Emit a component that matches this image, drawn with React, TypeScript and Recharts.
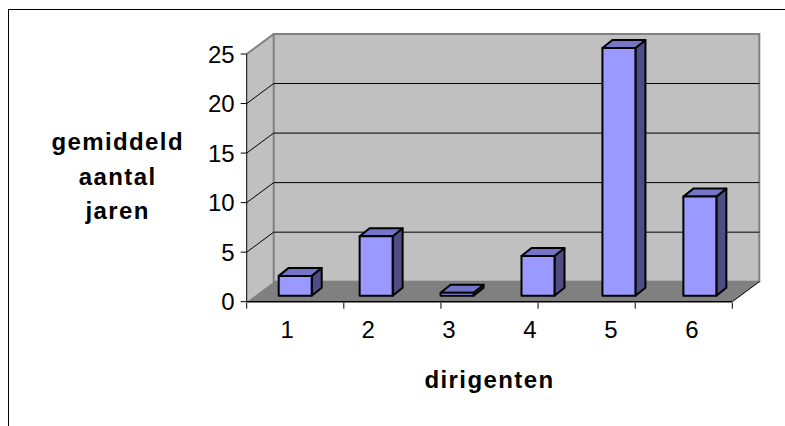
import { BarChart, Bar, XAxis, YAxis, ReferenceArea } from 'recharts'

/* ---------- data ---------- */

const categories = ['1', '2', '3', '4', '5', '6']
const years = [2, 6, 0.3, 4, 25, 10]
const yTicks = [0, 5, 10, 15, 20, 25]
const gridValues = [5, 10, 15, 20]
const edgeTicks = [0, 1, 2, 3, 4, 5, 6]

const data = categories.map((name, i) => ({ name, years: years[i] }))

/* ---------- look ---------- */

const FONT = '"Liberation Sans", Arial, sans-serif'
const WALL = '#c0c0c0'
const WALL_EDGE = '#808080'
const FLOOR = '#808080'
// depth of the 3d box (back wall offset)
const DX = 27
const DY = 20
// bars sit a little inside the box
const BAR_SHIFT_X = 8
const BAR_SHIFT_Y = 6
const BAR_DX = 10
const BAR_DY = 8

/* ---------- shapes ---------- */

// eslint-disable-next-line @typescript-eslint/no-explicit-any
function Walls(props: any) {
  const { x, y, width: w, height: h } = props
  if (x == null) return null
  const bottom = y + h
  return (
    <g>
      <polygon
        points={`${x},${y} ${x + DX},${y - DY} ${x + DX},${bottom - DY} ${x},${bottom}`}
        fill={WALL}
      />
      <polygon
        points={`${x},${bottom} ${x + w},${bottom} ${x + w + DX},${bottom - DY} ${x + DX},${bottom - DY}`}
        fill={FLOOR}
      />
      <rect x={x + DX} y={y - DY} width={w} height={h} fill={WALL} stroke={WALL_EDGE} strokeWidth={2} />
      <line x1={x} y1={y} x2={x + DX} y2={y - DY} stroke={WALL_EDGE} strokeWidth={2} />
      <line x1={x + w} y1={bottom} x2={x + w + DX} y2={bottom - DY} stroke="#000" strokeWidth={1} />
      <line x1={x} y1={bottom} x2={x + w} y2={bottom} stroke="#000" strokeWidth={1.5} />
    </g>
  )
}

// eslint-disable-next-line @typescript-eslint/no-explicit-any
function GridLine(props: any) {
  const { x, y, width: w } = props
  if (x == null) return null
  return (
    <g stroke="#000" strokeWidth={1}>
      <line x1={x + DX} y1={y - DY} x2={x + w + DX} y2={y - DY} />
      <line x1={x} y1={y} x2={x + DX} y2={y - DY} />
    </g>
  )
}

// eslint-disable-next-line @typescript-eslint/no-explicit-any
function Box3D(props: any) {
  const { x, y, width: w, height: h } = props
  if (x == null || w == null) return null
  const fx = x + BAR_SHIFT_X
  const fy = y - BAR_SHIFT_Y
  const side = `${fx + w},${fy} ${fx + w + BAR_DX},${fy - BAR_DY} ${fx + w + BAR_DX},${fy + h - BAR_DY} ${fx + w},${fy + h}`
  const top = `${fx},${fy} ${fx + BAR_DX},${fy - BAR_DY} ${fx + w + BAR_DX},${fy - BAR_DY} ${fx + w},${fy}`
  return (
    <g stroke="#000" strokeWidth={2} strokeLinejoin="round">
      <polygon points={side} fill="#4e4e85" />
      <polygon points={top} fill="#7575c8" />
      <rect x={fx} y={fy} width={w} height={h} fill="#9999ff" />
    </g>
  )
}

// eslint-disable-next-line @typescript-eslint/no-explicit-any
function CatTick(props: any) {
  const { x, y, payload } = props
  return (
    <text x={x} y={y} dy={36} textAnchor="middle" fontSize={24} fontFamily={FONT} fill="#000">
      {payload.value}
    </text>
  )
}

// eslint-disable-next-line @typescript-eslint/no-explicit-any
function YTitle(props: any) {
  const vb = props.viewBox
  if (!vb) return null
  const cx = vb.x + 71
  const cy = vb.y + vb.height / 2
  return (
    <text x={cx} y={cy + 7} textAnchor="middle" fontSize={24} fontWeight="bold" fontFamily={FONT} fill="#000" letterSpacing={1.4}>
      <tspan x={cx} dy={-35}>gemiddeld</tspan>
      <tspan x={cx} dy={35}>aantal</tspan>
      <tspan x={cx} dy={34}>jaren</tspan>
    </text>
  )
}

// eslint-disable-next-line @typescript-eslint/no-explicit-any
function XTitle(props: any) {
  const vb = props.viewBox
  if (!vb) return null
  return (
    <text x={vb.x + vb.width / 2} y={vb.y + 86} textAnchor="middle" fontSize={24} fontWeight="bold" fontFamily={FONT} fill="#000" letterSpacing={1.4}>
      dirigenten
    </text>
  )
}

/* ---------- component ---------- */

export default function App() {
  return (
    <div
      style={{
        position: 'fixed',
        left: 8,
        top: 9,
        width: 777,
        height: 417,
        borderTop: '1px solid #000',
        borderLeft: '1px solid #000',
        overflow: 'hidden',
        background: '#fff',
        boxSizing: 'border-box',
      }}
    >
      <BarChart
        width={776}
        height={416}
        data={data}
        margin={{ top: 44, right: 52.7, left: 37.7, bottom: 122.3 }}
        style={{ fontFamily: FONT }}
      >
        <XAxis
          dataKey="name"
          height={1}
          tickSize={0}
          tickMargin={0}
          axisLine={false}
          tickLine={false}
          tick={<CatTick />}
          interval={0}
          label={{ content: (p: any) => <XTitle {...p} /> }}
        />
        <XAxis
          xAxisId="edge"
          type="number"
          domain={[0, 6]}
          ticks={edgeTicks}
          allowDataOverflow
          height={1}
          tickSize={6}
          tickFormatter={() => ''}
          axisLine={false}
          tickLine={{ stroke: '#000' }}
        />
        <YAxis
          domain={[0, 25]}
          ticks={yTicks}
          interval={0}
          width={200}
          tickSize={6}
          tickMargin={6}
          axisLine={{ stroke: '#000' }}
          tickLine={{ stroke: '#000' }}
          tick={{ fontSize: 24, fill: '#000', fontFamily: FONT }}
          label={{ content: (p: any) => <YTitle {...p} /> }}
        />

        <ReferenceArea shape={<Walls />} />
        {gridValues.map((v) => (
          <ReferenceArea key={v} y1={0} y2={v} shape={<GridLine />} />
        ))}

        <Bar dataKey="years" barSize={33} isAnimationActive={false} shape={<Box3D />} />
      </BarChart>
    </div>
  )
}
